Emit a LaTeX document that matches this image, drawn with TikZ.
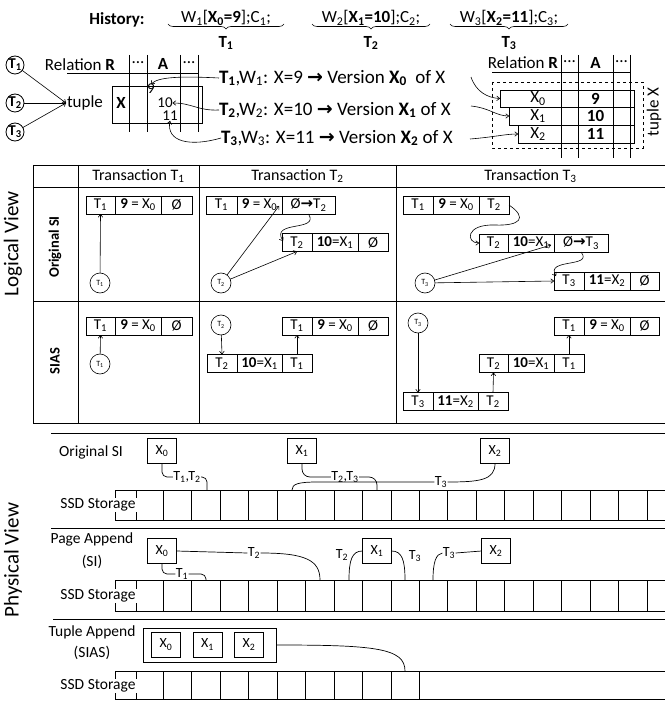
\documentclass[tikz,border=0pt]{standalone}
\usepackage{fontspec}
\setmainfont{Carlito}
\newfontfamily\djv{DejaVu Sans}
\usetikzlibrary{decorations.pathreplacing,arrows.meta}
\newcommand\sbx[1]{\textsubscript{#1}}
\newcommand\rar{$\rightarrow$}
\newcommand\brar{{\djv\bfseries →}}
\begin{document}
\begin{tikzpicture}[x=1pt,y=-1pt,
  every node/.style={inner sep=0pt,outer sep=0pt},
  txt/.style={font=\fontsize{17}{19}\selectfont},
  ltxt/.style={font=\fontsize{19}{21}\selectfont},
  btxt/.style={font=\bfseries\fontsize{17}{19}\selectfont},
  hdr/.style={font=\fontsize{16}{18}\selectfont},
  cell/.style={draw,line width=0.8pt,minimum height=18pt,font=\fontsize{15}{17}\selectfont},
  lc/.style={draw,circle,minimum size=20pt,font=\fontsize{8}{9}\selectfont,line width=0.6pt},
  tc/.style={draw,circle,minimum size=18pt,font=\bfseries\fontsize{15}{16}\selectfont,line width=0.8pt},
  arr/.style={line width=0.6pt,-{To[length=3.5pt,width=5pt]}},
  ln/.style={line width=0.7pt},
  pbox/.style={draw,minimum width=29pt,minimum height=25pt,font=\fontsize{14}{15}\selectfont,line width=0.8pt},
  lab/.style={font=\fontsize{14}{15}\selectfont,inner sep=0.5pt},
  sec/.style={font=\fontsize{15.5}{17}\selectfont},
  brc/.style={decorate,decoration={brace,mirror,amplitude=5pt},line width=0.6pt},
  big/.style={font=\fontsize{21}{23}\selectfont,rotate=90}]
\useasboundingbox[fill=white] (0,0) rectangle (665,703);

% ---------------- History ----------------
\node[btxt] (hist) at (117,20) {History:};
\node[txt] (w1) at (226,18) {W\sbx1[\textbf{X\sbx{0}=9}];C\sbx1;};
\node[txt] (w2) at (371,18) {W\sbx2[\textbf{X\sbx{1}=10}];C\sbx2;};
\node[txt] (w3) at (509,18) {W\sbx3[\textbf{X\sbx{2}=11}];C\sbx3;};
\coordinate (b1l) at (168,24); \coordinate (b1r) at (284,24);
\coordinate (b2l) at (312,24); \coordinate (b2r) at (430,24);
\coordinate (b3l) at (450,24); \coordinate (b3r) at (568,24);
\draw[brc] (b1l) -- (b1r);
\draw[brc] (b2l) -- (b2r);
\draw[brc] (b3l) -- (b3r);
\node[btxt] (ht1) at (226,43) {T\sbx1};
\node[btxt] (ht2) at (371,43) {T\sbx2};
\node[btxt] (ht3) at (509,43) {T\sbx3};

% ---------------- tuple (left) ----------------
\node[tc] (ct1) at (15,65) {T\sbx1};
\node[tc] (ct2) at (15,103) {T\sbx2};
\node[tc] (ct3) at (15,132) {T\sbx3};
\coordinate (tp) at (66,103);
\draw[arr] (ct1) -- (tp);
\draw[arr] (ct2) -- (tp);
\draw[arr] (ct3) -- (tp);
\node[txt,anchor=west] (tuple) at (67,103) {tuple};
\node[txt] (relL) at (80,65) {Relation \textbf{R}};
\draw[ln] (67,73) -- (198,73);
\foreach \x in {129,147,180,198} \draw[ln] (\x,55) -- (\x,132);
\node[txt] (dl1) at (138,63) {...};
\node[btxt] (al) at (163,64) {A};
\node[txt] (dl2) at (189,63) {...};
\draw[ln] (112,86) rectangle (202,123);
\node[btxt] (xl) at (121,103) {X};
\node[font=\fontsize{15}{17}\selectfont] (n9) at (151,89) {9};
\node[font=\fontsize{15}{17}\selectfont] (n10) at (165,103) {10};
\node[font=\fontsize{15}{17}\selectfont] (n11) at (170,116) {11};

\node[ltxt,anchor=west] (tl1) at (219,78) {\textbf{T\sbx1},W\sbx1: X=9 \brar{} Version \textbf{X\sbx0}\ \ of X};
\node[ltxt,anchor=west] (tl2) at (219,110) {\textbf{T\sbx2},W\sbx2: X=10 \brar{} Version \textbf{X\sbx1} of X};
\node[ltxt,anchor=west] (tl3) at (221,138) {\textbf{T\sbx3},W\sbx3: X=11 \brar{} Version \textbf{X\sbx2} of X};
\draw[arr] (tl1.west) .. controls (180,76) and (158,77) .. (n9.north);
\draw[arr] (tl2.west) .. controls (198,111) and (192,103) .. (n10.east);
\draw[arr] (tl3.west) .. controls (190,147) and (166,142) .. (n11.south);

% ---------------- tuple (right) ----------------
\node[txt] (relR) at (523,63) {Relation \textbf{R}};
\node[txt] (dr1) at (569.5,62) {...};
\node[btxt] (ar) at (595.5,63) {A};
\node[txt] (dr2) at (621.5,62) {...};
\draw[ln] (492,72) -- (630,72);
\draw[ln,dashed] (492,82) rectangle (643,148);
\node[draw,line width=0.8pt,minimum width=134pt,minimum height=17pt] (r0) at (567,98.5) {};
\node[draw,line width=0.8pt,minimum width=125pt,minimum height=18pt] (r1) at (571.5,116) {};
\node[draw,line width=0.8pt,minimum width=116pt,minimum height=18pt] (r2) at (576,134) {};
\foreach \x in {561,578,613,630} \draw[ln] (\x,55) -- (\x,158);
\node[txt] (rx0) at (538,98.5) {X\sbx0};
\node[txt] (rx1) at (538,116) {X\sbx1};
\node[txt] (rx2) at (538,134) {X\sbx2};
\node[btxt] (rv0) at (595.5,98.5) {9};
\node[btxt] (rv1) at (595.5,116) {10};
\node[btxt] (rv2) at (595.5,134) {11};
\coordinate (rs1) at (471,77);
\coordinate (rs2) at (471,106);
\coordinate (rs3) at (470,139);
\draw[arr] (rs1) .. controls (476,92) and (488,98) .. (r0.west);
\draw[arr] (rs2) .. controls (490,108) and (496,116) .. (r1.west);
\draw[arr] (rs3) .. controls (495,137) and (505,134) .. (r2.west);
\node[txt,rotate=90] (tupx) at (654,112) {tuple X};

% ---------------- Logical view table ----------------
\foreach \y in {165,187,301,423} \draw[ln] (33,\y) -- (665,\y);
\foreach \x in {33,78,199,396} \draw[ln] (\x,165) -- (\x,423);
\node[hdr] (h1) at (138.5,176) {Transaction T\sbx1};
\node[hdr] (h2) at (297.5,176) {Transaction T\sbx2};
\node[hdr] (h3) at (530.5,176) {Transaction T\sbx3};
\node[big] (lv) at (13,244) {Logical View};
\node[font=\bfseries\fontsize{14.5}{16}\selectfont,rotate=90] (osi) at (55,247) {Original SI};
\node[font=\bfseries\fontsize{14.5}{16}\selectfont,rotate=90] (sias) at (55,361) {SIAS};

% Original SI, T1
\node[cell,minimum width=29pt] (a1) at (100.5,205) {T\sbx1};
\node[cell,minimum width=46pt] (a2) at (138,205) {\textbf{9} = X\sbx0};
\node[cell,minimum width=31pt] (a3) at (176.5,205) {Ø};
\node[lc] (ca) at (100,283) {T\sbx1};
\draw[arr] (ca) -- (a1.south);

% Original SI, T2
\node[cell,minimum width=31pt] (b11) at (221.5,205) {T\sbx1};
\node[cell,minimum width=45pt] (b12) at (259.5,205) {\textbf{9} = X\sbx0};
\node[cell,minimum width=53pt] (b13) at (308.5,205) {Ø\brar T\sbx2};
\node[cell,minimum width=30pt] (b21) at (297,242.5) {T\sbx2};
\node[cell,minimum width=46pt] (b22) at (335,242.5) {\textbf{10}=X\sbx1};
\node[cell,minimum width=30pt] (b23) at (373,242.5) {Ø};
\node[lc] (cb) at (221,283) {T\sbx2};
\coordinate (pb1) at (279,206);
\coordinate (pl1) at (283,241);
\draw[arr] (cb) -- (pb1);
\draw[arr] (cb) -- (b21.south);
\draw[arr] (b13.south) .. controls (320,232) and (270,220) .. (pl1);

% Original SI, T3
\node[cell,minimum width=30pt] (c11) at (418,205) {T\sbx1};
\node[cell,minimum width=46pt] (c12) at (456,205) {\textbf{9} = X\sbx0};
\node[cell,minimum width=30pt] (c13) at (494,205) {T\sbx2};
\node[cell,minimum width=29pt] (c21) at (493.5,243) {T\sbx2};
\node[cell,minimum width=46pt] (c22) at (531,243) {\textbf{10}=X\sbx1};
\node[cell,minimum width=54pt] (c23) at (581,243) {Ø\brar T\sbx3};
\node[cell,minimum width=30pt] (c31) at (569,281) {T\sbx3};
\node[cell,minimum width=46pt] (c32) at (607,281) {\textbf{11}=X\sbx2};
\node[cell,minimum width=29pt] (c33) at (644.5,281) {Ø};
\node[lc] (cc) at (425,283) {T\sbx3};
\coordinate (pc2) at (551,245);
\coordinate (pl2) at (556,276);
\draw[arr] (cc) -- (pc2);
\draw[arr] (cc) -- (c31.west);
\draw[arr] (c13.east) .. controls (528,218) and (520,226) .. (495,225) .. controls (465,224) and (466,243) .. (c21.west);
\draw[arr] (c23.south) .. controls (594,268) and (545,258) .. (pl2);

% SIAS, T1
\node[cell,minimum width=29pt] (d1) at (100.5,326) {T\sbx1};
\node[cell,minimum width=46pt] (d2) at (138,326) {\textbf{9} = X\sbx0};
\node[cell,minimum width=31pt] (d3) at (176.5,326) {Ø};
\node[lc] (cd) at (100,364) {T\sbx1};
\draw[arr] (cd) -- (d1.south);

% SIAS, T2
\node[lc] (ce) at (221,325) {T\sbx2};
\node[cell,minimum width=30pt] (e11) at (222,363.5) {T\sbx2};
\node[cell,minimum width=45pt] (e12) at (259.5,363.5) {\textbf{10}=X\sbx1};
\node[cell,minimum width=30pt] (e13) at (297,363.5) {T\sbx1};
\node[cell,minimum width=30pt] (e21) at (297,326) {T\sbx1};
\node[cell,minimum width=46pt] (e22) at (335,326) {\textbf{9} = X\sbx0};
\node[cell,minimum width=30pt] (e23) at (373,326) {Ø};
\draw[arr] (ce) -- (e11.north);
\draw[arr] (e13.north) -- (e21.south);

% SIAS, T3
\node[lc] (cf) at (418,323) {T\sbx3};
\node[cell,minimum width=30pt] (f11) at (569,326) {T\sbx1};
\node[cell,minimum width=46pt] (f12) at (607,326) {\textbf{9} = X\sbx0};
\node[cell,minimum width=29pt] (f13) at (644.5,326) {Ø};
\node[cell,minimum width=29pt] (f21) at (493.5,363.5) {T\sbx2};
\node[cell,minimum width=46pt] (f22) at (531,363.5) {\textbf{10}=X\sbx1};
\node[cell,minimum width=30pt] (f23) at (569,363.5) {T\sbx1};
\node[cell,minimum width=30pt] (f31) at (418,401.5) {T\sbx3};
\node[cell,minimum width=45pt] (f32) at (455.5,401.5) {\textbf{11}=X\sbx2};
\node[cell,minimum width=30pt] (f33) at (493,401.5) {T\sbx2};
\draw[arr] (cf) -- (f31.north);
\draw[arr] (f33.north) -- (f21.south);
\draw[arr] (f23.north) -- (f11.south);

% ---------------- Physical view ----------------
\node[big] (pv) at (13,560) {Physical View};

% section 1
\draw[ln] (51,433) -- (665,433);
\node[sec] (os) at (91,452) {Original SI};
\node[pbox] (pa0) at (162,451) {X\sbx0};
\node[pbox] (pa1) at (302,451) {X\sbx1};
\node[pbox] (pa2) at (495,451) {X\sbx2};
\draw[ln] (115,490) -- (665,490);
\draw[ln] (115,520) -- (665,520);
\foreach \k in {0,...,17} \draw[ln] ({163.3+28.45*\k},490) -- ++(0,30);
\draw[ln] (115,490) -- ++(0,30);
\draw[ln] (136,490) -- ++(0,30);
\node[sec,fill=white,inner sep=1pt] (ssd1) at (98,505) {SSD Storage};
\coordinate (s1a) at (207,490);
\coordinate (s1b) at (377,490);
\coordinate (s1c) at (292,490);
\node[lab] (la1) at (187,477) {T\sbx1,T\sbx2};
\node[lab] (la2) at (345,477) {T\sbx2,T\sbx3};
\node[lab] (la3) at (441,482) {T\sbx3};
\draw[ln,rounded corners=5] (pa0.south) |- (la1.west);
\draw[ln,rounded corners=5] (la1.east) -| (s1a);
\draw[ln,rounded corners=8] (pa1.south) |- (la2.west);
\draw[ln,rounded corners=8] (la2.east) -| (s1b);
\draw[ln] (pa2.south) .. controls (495,480) and (480,482) .. (la3.east);
\draw[ln] (la3.west) -- (318,482) .. controls (298,482) and (292,484) .. (s1c);

% section 2
\draw[ln] (51,528) -- (665,528);
\node[sec] (pg) at (92,539) {Page Append};
\node[sec] (pgsi) at (92,562) {(SI)};
\node[pbox] (pb0) at (162,551) {X\sbx0};
\node[pbox] (pb1) at (377,551) {X\sbx1};
\node[pbox] (pb2) at (496,551) {X\sbx2};
\draw[ln] (115,580) -- (665,580);
\draw[ln] (115,611) -- (665,611);
\foreach \k in {0,...,17} \draw[ln] ({163.3+28.45*\k},580) -- ++(0,31);
\draw[ln] (115,580) -- ++(0,31);
\draw[ln] (136,580) -- ++(0,31);
\node[sec,fill=white,inner sep=1pt] (ssd2) at (98,596) {SSD Storage};
\coordinate (s2a) at (320,580);
\coordinate (s2b) at (206,580);
\coordinate (s2c) at (349,580);
\coordinate (s2d) at (405,580);
\coordinate (s2e) at (433,580);
\node[lab] (lb1) at (254,553) {T\sbx2};
\node[lab] (lb2) at (182,574) {T\sbx1};
\node[lab] (lb3) at (342,555) {T\sbx2};
\node[lab] (lb4) at (415,556) {T\sbx3};
\node[lab] (lb5) at (449,553) {T\sbx3};
\draw[ln] (pb0.east) -- (lb1.west);
\draw[ln] (lb1.east) .. controls (305,553) and (320,560) .. (s2a);
\draw[ln,rounded corners=5] (pb0.south) |- (lb2.west);
\draw[ln,rounded corners=5] (lb2.east) -| (s2b);
\draw[ln] (pb1.west) .. controls (352,551) and (349,560) .. (s2c);
\draw[ln] (pb1.east) .. controls (402,551) and (405,560) .. (s2d);
\draw[ln] (pb2.west) -- (lb5.east);
\draw[ln] (lb5.west) .. controls (436,554) and (433,562) .. (s2e);

% section 3
\draw[ln] (53,619) -- (665,619);
\node[sec] (ta) at (92,632) {Tuple Append};
\node[sec] (tas) at (92,653) {(SIAS)};
\node[draw,line width=0.8pt,minimum width=133pt,minimum height=34pt] (outer) at (209.5,645) {};
\node[pbox] (pc0) at (166,644.5) {X\sbx0};
\node[pbox] (pc1) at (207.5,644.5) {X\sbx1};
\node[pbox] (pc2) at (249,644.5) {X\sbx2};
\draw[ln] (115,671) -- (665,671);
\draw[ln] (115,699) -- (665,699);
\foreach \k in {0,...,9} \draw[ln] ({163.3+28.45*\k},671) -- ++(0,28);
\draw[ln] (115,671) -- ++(0,28);
\draw[ln] (136,671) -- ++(0,28);
\node[sec,fill=white,inner sep=1pt] (ssd3) at (98,686) {SSD Storage};
\coordinate (s3a) at (405,671);
\draw[ln] (outer.east) .. controls (375,645) and (405,648) .. (s3a);
\end{tikzpicture}
\end{document}
